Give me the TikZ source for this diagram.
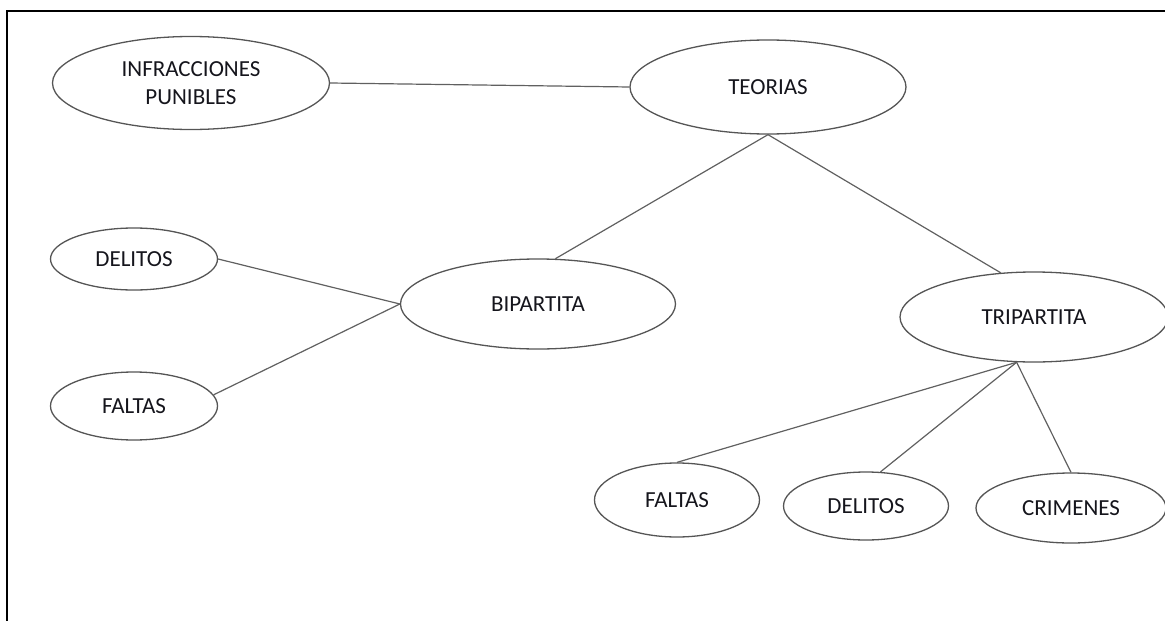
\documentclass[tikz,border=0pt]{standalone}
\usepackage{fontspec}
\setmainfont{Carlito}
\usetikzlibrary{shapes.geometric}
\definecolor{edgegray}{HTML}{555555}
\definecolor{linegray}{HTML}{606060}
\definecolor{textdark}{HTML}{15151C}
\begin{document}
\begin{tikzpicture}[x=1pt,y=-1pt,
  bubble/.style={ellipse,draw=edgegray,line width=1.3pt,inner sep=0pt,
    text=textdark,align=center,font=\fontsize{23}{28}\selectfont},
  link/.style={draw=linegray,line width=1.2pt},
  frame/.style={draw=black,line width=2pt}]
\useasboundingbox (0,0) rectangle (1165,621);
% page frame (open on the right and bottom)
\draw[frame] (7,621) -- (7,11) -- (1166,11);

% concept nodes
\node[bubble,minimum width=277pt,minimum height=93pt] (inf) at (191,83) {INFRACCIONES\\PUNIBLES};
\node[bubble,minimum width=276pt,minimum height=94pt] (teo) at (768,87) {TEORIAS};
\node[bubble,minimum width=275pt,minimum height=90pt] (bip) at (538,304) {BIPARTITA};
\node[bubble,minimum width=268pt,minimum height=90pt] (tri) at (1034,317) {TRIPARTITA};
\node[bubble,minimum width=167pt,minimum height=62pt] (del1) at (134,259) {DELITOS};
\node[bubble,minimum width=167pt,minimum height=68pt] (fal1) at (134,406) {FALTAS};
\node[bubble,minimum width=165pt,minimum height=74pt] (fal2) at (677,500) {FALTAS};
\node[bubble,minimum width=165pt,minimum height=68pt] (del2) at (866,506) {DELITOS};
\node[bubble,minimum width=190pt,minimum height=70pt] (cri) at (1071,508) {CRIMENES};

% connectors
\draw[link] (inf.east) -- (teo.west);
\draw[link] (teo.south) -- (bip.69);
\draw[link] (teo.south) -- (tri.127);
\draw[link] (del1.east) -- (bip.west);
\draw[link] (fal1.8) -- (bip.west);
\draw[link] (tri.249) -- (fal2.north);
\draw[link] (tri.249) -- (del2.67);
\draw[link] (tri.249) -- (cri.north);
\end{tikzpicture}
\end{document}
